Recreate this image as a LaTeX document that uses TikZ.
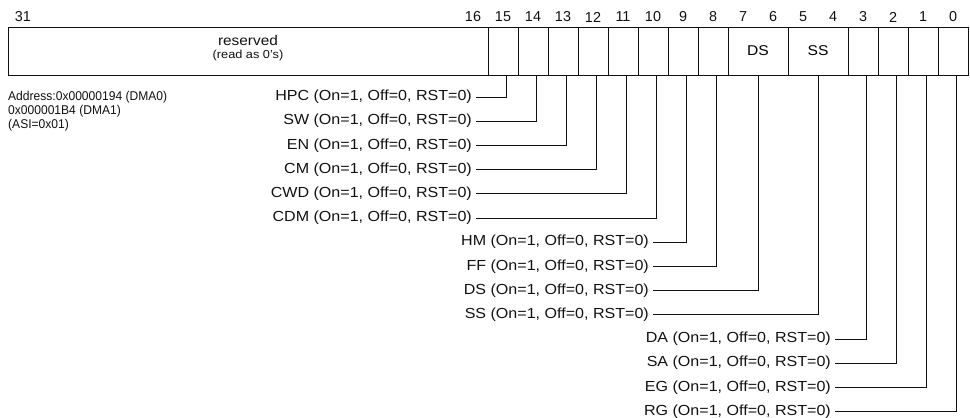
\documentclass[tikz,border=0pt]{standalone}
\usepackage{fontspec}
\setmainfont{Liberation Sans}[FakeStretch=1.1]
\newfontfamily\addrfont{Liberation Sans}[FakeStretch=0.95]
\newfontfamily\numfont{Liberation Sans}
\usepackage{tikz}
\usepackage{xcolor}
\usetikzlibrary{positioning,calc}
\definecolor{ink}{HTML}{111111}
\newcommand{\onoff}{(On=1, Off=0, RST=0)}

\begin{document}
\begin{tikzpicture}[x=1pt,y=-1pt,
    cell/.style={draw=ink,line width=1pt,minimum height=48pt,inner sep=0pt,
      outer sep=0pt,anchor=north west},
    bitno/.style={font=\numfont\fontsize{14.4}{16}\selectfont,text=ink,inner sep=0pt},
    flag/.style={font=\fontsize{14.6}{17}\selectfont,text=ink,inner sep=0pt,anchor=east},
    lead/.style={draw=ink,line width=0.75pt}]
    \path[use as bounding box] (0,0) rectangle (970,418);
    % bit numbers
    \foreach \b in {31,16,15,14,13,12,11,10,9,8,7,6,5,4,3,2,1,0}
      \node[bitno] (n\b) at ({953-30*\b},17) {\b};
    % register cells
    \node[cell,minimum width=480pt] (bRes) at (8,27) {};
    \node[font=\fontsize{14}{16}\selectfont,text=ink,inner sep=0pt] (res) at (248,40) {reserved};
    \node[font=\fontsize{11.6}{14}\selectfont,text=ink,inner sep=0pt] (resNote) at (248,55) {(read as 0's)};
    \foreach \b in {15,14,13,12,11,10,9,8,3,2,1,0}
      \node[cell,minimum width=30pt] (b\b) at ({938-30*\b},27) {};
    \node[cell,minimum width=60pt,font=\fontsize{14.2}{16}\selectfont] (bDS) at (728,27) {DS};
    \node[cell,minimum width=60pt,font=\fontsize{14.2}{16}\selectfont] (bSS) at (788,27) {SS};
    % address
    \node[font=\addrfont\fontsize{12.7}{14}\selectfont,text=ink,inner sep=0pt,anchor=north west,align=left]
      (addr) at (8,91) {Address:0x00000194 (DMA0)\\0x000001B4 (DMA1)\\(ASI=0x01)};
    % bits 15..10
    \node[flag] (lHPC) at (472,97.0) {HPC \onoff};
    \node[flag] (lSW)  at (472,121.2) {SW \onoff};
    \node[flag] (lEN)  at (472,145.4) {EN \onoff};
    \node[flag] (lCM)  at (472,169.6) {CM \onoff};
    \node[flag] (lCWD) at (472,193.8) {CWD \onoff};
    \node[flag] (lCDM) at (472,218.0) {CDM \onoff};
    % bits 9..4
    \node[flag] (lHM) at (649,242.2) {HM \onoff};
    \node[flag] (lFF) at (649,266.4) {FF \onoff};
    \node[flag] (lDS) at (649,290.6) {DS \onoff};
    \node[flag] (lSS) at (649,314.8) {SS \onoff};
    % bits 3..0
    \node[flag] (lDA) at (831,339.0) {DA \onoff};
    \node[flag] (lSA) at (831,363.2) {SA \onoff};
    \node[flag] (lEG) at (831,387.4) {EG \onoff};
    \node[flag] (lRG) at (831,411.6) {RG \onoff};
    % leaders
    \draw[lead] ([xshift=4pt]lHPC.east) -| ([xshift=3pt]b15.south);
    \draw[lead] ([xshift=4pt]lSW.east) -| ([xshift=3pt]b14.south);
    \draw[lead] ([xshift=4pt]lEN.east) -| ([xshift=3pt]b13.south);
    \draw[lead] ([xshift=4pt]lCM.east) -| ([xshift=3pt]b12.south);
    \draw[lead] ([xshift=4pt]lCWD.east) -| ([xshift=3pt]b11.south);
    \draw[lead] ([xshift=4pt]lCDM.east) -| ([xshift=3pt]b10.south);
    \draw[lead] ([xshift=4pt]lHM.east) -| ([xshift=3pt]b9.south);
    \draw[lead] ([xshift=4pt]lFF.east) -| ([xshift=3pt]b8.south);
    \draw[lead] ([xshift=4pt]lDS.east) -| (bDS.south);
    \draw[lead] ([xshift=4pt]lSS.east) -| (bSS.south);
    \draw[lead] ([xshift=4pt]lDA.east) -| ([xshift=3pt]b3.south);
    \draw[lead] ([xshift=4pt]lSA.east) -| ([xshift=3pt]b2.south);
    \draw[lead] ([xshift=4pt]lEG.east) -| ([xshift=3pt]b1.south);
    \draw[lead] ([xshift=4pt]lRG.east) -| ([xshift=3pt]b0.south);
\end{tikzpicture}
\end{document}
